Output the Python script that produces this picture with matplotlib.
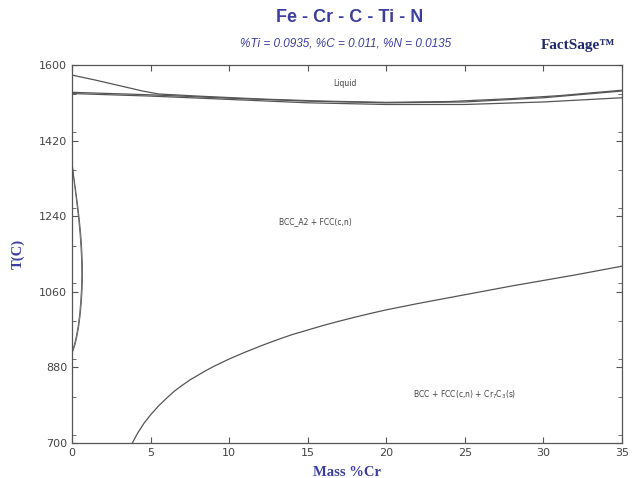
import matplotlib
matplotlib.use("Agg")
import matplotlib.pyplot as plt
from matplotlib.ticker import MultipleLocator

# ---- data ----
top_x = [0, 1.5, 3.0, 4.5, 5.5, 8, 12, 16, 20, 24, 28, 31, 35]
top_T = [1576, 1564, 1551, 1538, 1531, 1526, 1519, 1514, 1511, 1513, 1520, 1527, 1540]

liq_x = [0, 5, 10, 15, 20, 25, 30, 35]
liq_T = [1535, 1529, 1521, 1514, 1510, 1512, 1522, 1538]

sol_x = [0, 5, 10, 15, 20, 25, 30, 35]
sol_T = [1532, 1526, 1518, 1510, 1506, 1506, 1512, 1522]

loop_out_x = [0, 0.03, 0.08, 0.16, 0.26, 0.37, 0.47, 0.56, 0.62, 0.66, 0.67, 0.65, 0.60, 0.52, 0.42, 0.30, 0.18, 0.08, 0.02, 0]
loop_out_T = [1372, 1362, 1345, 1322, 1295, 1265, 1232, 1198, 1165, 1132, 1100, 1068, 1035, 1003, 974, 950, 932, 921, 915, 913]
loop_in_x = [0, 0.03, 0.07, 0.14, 0.23, 0.33, 0.43, 0.51, 0.57, 0.61, 0.62, 0.60, 0.55, 0.48, 0.38, 0.27, 0.16, 0.07, 0.02, 0]
loop_in_T = [1368, 1358, 1342, 1320, 1293, 1263, 1230, 1197, 1164, 1132, 1100, 1069, 1037, 1006, 977, 954, 936, 925, 919, 917]

carb_x = [3.84, 4.2, 4.6, 5.0, 5.5, 6.0, 6.5, 7.0, 7.5, 8.0, 8.5, 9.0, 9.5, 10, 11, 12, 13, 14, 15, 16, 17, 18, 19, 20,
          21, 22, 23, 24, 25, 26, 27, 28, 29, 30, 31, 32, 33, 34, 35]
carb_T = [700, 725, 748, 767, 788, 806, 823, 837, 850, 861, 872, 882, 891, 900, 916, 931, 945, 958, 969, 980, 990, 999.5,
          1008.5, 1017, 1024.5, 1032, 1039, 1046, 1053, 1060, 1067, 1074, 1080.5, 1087, 1093.5, 1100, 1107, 1114, 1121]

xticks = [0, 5, 10, 15, 20, 25, 30, 35]
yticks = [700, 880, 1060, 1240, 1420, 1600]

labels = ["Liquid", "BCC_A2 + FCC(c,n)", r"BCC + FCC(c,n) + Cr$_7$C$_3$(s)"]
label_x = [17.4, 15.5, 25.0]
label_T = [1555, 1226, 814]

blue = "#3c3f9e"
line_c = "#555555"

fig = plt.figure(figsize=(6.36, 4.78), dpi=100)
ax = fig.add_axes([72/636, 1-443/478, 550/636, 378/478])

for xs, ts in [(top_x, top_T), (liq_x, liq_T), (sol_x, sol_T), (carb_x, carb_T)]:
    ax.plot(xs, ts, color=line_c, lw=0.9)
for xs, ts in [(loop_out_x, loop_out_T), (loop_in_x, loop_in_T)]:
    ax.plot(xs, ts, color=line_c, lw=0.6)

ax.set_xlim(0, 35)
ax.set_ylim(700, 1600)
ax.set_xticks(xticks)
ax.set_yticks(yticks)
ax.yaxis.set_minor_locator(MultipleLocator(90))
ax.tick_params(direction="in", which="both", top=True, right=True,
               labelsize=8, labelcolor="#444444", color="#555555")
ax.tick_params(which="major", length=4)
ax.tick_params(which="minor", length=3)
for s in ax.spines.values():
    s.set_color("#555555")
    s.set_linewidth(0.9)

for t, x, y in zip(labels, label_x, label_T):
    ax.text(x, y, t, fontsize=5.5, color="#444444", ha="center", va="center")

ax.set_xlabel("Mass %Cr", family="Liberation Serif", fontweight="bold",
              color=blue, fontsize=10.5, labelpad=6)
ax.set_ylabel("T(C)", family="Liberation Serif", fontweight="bold",
              color=blue, fontsize=10.5, labelpad=10)

fig.text(350/636, 1-18/478, "Fe - Cr - C - Ti - N", ha="center", va="center",
         fontsize=13, fontweight="bold", color=blue, family="Liberation Sans")
fig.text(346/636, 1-43/478, "%Ti = 0.0935, %C = 0.011, %N = 0.0135", ha="center",
         va="center", fontsize=8.5, fontstyle="italic", color=blue, family="Liberation Sans")
fig.text(578/636, 1-45/478, "FactSage\u2122", ha="center", va="center",
         fontsize=11, fontweight="bold", color="#1f2a6b", family="Liberation Serif")

fig.savefig("out.png", dpi=100)
